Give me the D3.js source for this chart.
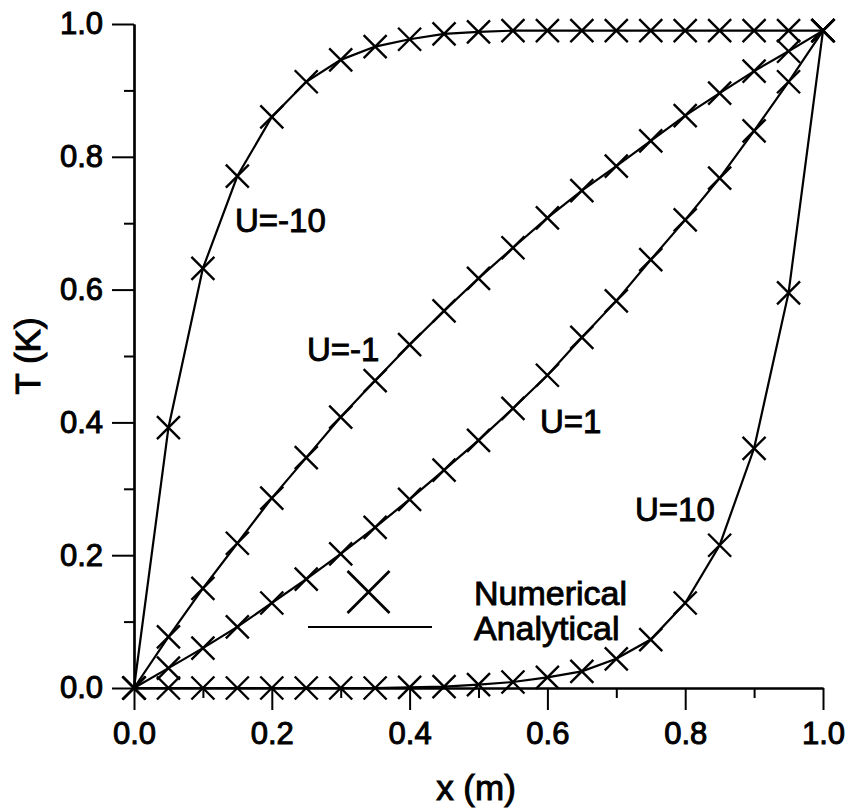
<!DOCTYPE html>
<html>
<head>
<meta charset="utf-8">
<script src="https://cdn.jsdelivr.net/npm/d3@7"></script>
<style>
  html, body { margin: 0; padding: 0; background: #fff; }
  svg text { font-family: "Liberation Sans", Arial, Helvetica, sans-serif; fill: #000; }
</style>
</head>
<body>
<svg id="chart" width="849" height="808"></svg>
<script>
// ---- data ----
const xValues = [0, 0.05, 0.1, 0.15, 0.2, 0.25, 0.3, 0.35, 0.4, 0.45, 0.5,
                 0.55, 0.6, 0.65, 0.7, 0.75, 0.8, 0.85, 0.9, 0.95, 1.0];
const T_Um10 = [0, 0.392, 0.632, 0.771, 0.860, 0.913, 0.946, 0.966, 0.977, 0.985, 0.988,
                0.990, 0.990, 0.990, 0.990, 0.990, 0.990, 0.990, 0.990, 0.990, 0.990];
const T_Um1  = [0, 0.077, 0.150, 0.218, 0.286, 0.347, 0.408, 0.463, 0.517, 0.568, 0.617,
                0.663, 0.708, 0.749, 0.786, 0.824, 0.862, 0.896, 0.929, 0.959, 0.990];
const T_U1   = [0, 0.030, 0.060, 0.092, 0.128, 0.164, 0.202, 0.242, 0.284, 0.328, 0.373,
                0.421, 0.471, 0.528, 0.583, 0.645, 0.705, 0.768, 0.839, 0.913, 0.990];
const T_U10  = [0, 0.000, 0.000, 0.000, 0.000, 0.000, 0.000, 0.000, 0.001, 0.002, 0.005,
                0.009, 0.016, 0.025, 0.044, 0.073, 0.128, 0.215, 0.361, 0.595, 0.990];
const seriesNames = ["U=-10", "U=-1", "U=1", "U=10"];
const seriesValues = [T_Um10, T_Um1, T_U1, T_U10];
const xMajorTicks = [0, 0.2, 0.4, 0.6, 0.8, 1.0];
const xMinorTicks = [0.1, 0.3, 0.5, 0.7, 0.9];
const yMajorTicks = [0, 0.2, 0.4, 0.6, 0.8, 1.0];
const yMinorTicks = [0.1, 0.3, 0.5, 0.7, 0.9];
const xTitle = "x (m)";
const yTitle = "T (K)";
const legendLabels = ["Numerical", "Analytical"];

// ---- layout ----
const svg = d3.select("#chart");
const x = d3.scaleLinear().domain([0, 1]).range([134, 823]);
const y = d3.scaleLinear().domain([0, 1]).range([688, 24]);

const black = "#000";

// axes (left and bottom only)
const xAxisMajor = d3.axisBottom(x).tickValues(xMajorTicks).tickFormat(d3.format(".1f"))
  .tickSizeInner(22).tickSizeOuter(0).tickPadding(12);
const xAxisMinor = d3.axisBottom(x).tickValues(xMinorTicks).tickFormat("")
  .tickSizeInner(10).tickSizeOuter(0);
const yAxisMajor = d3.axisLeft(y).tickValues(yMajorTicks).tickFormat(d3.format(".1f"))
  .tickSizeInner(22).tickSizeOuter(0).tickPadding(9);
const yAxisMinor = d3.axisLeft(y).tickValues(yMinorTicks).tickFormat("")
  .tickSizeInner(10).tickSizeOuter(0);

function styleAxis(g) {
  g.select(".domain").attr("stroke", black).attr("stroke-width", 2.2);
  g.selectAll(".tick line").attr("stroke", black).attr("stroke-width", 2);
  g.selectAll(".tick text")
    .attr("font-family", "Liberation Sans, Arial, sans-serif")
    .attr("font-size", 31)
    .attr("fill", black)
    .attr("stroke", black).attr("stroke-width", 1.0);
}

svg.append("g").attr("transform", `translate(0,${y(0)})`).call(xAxisMinor).call(styleAxis);
svg.append("g").attr("transform", `translate(0,${y(0)})`).call(xAxisMajor).call(styleAxis);
svg.append("g").attr("transform", `translate(${x(0)},0)`).call(yAxisMinor).call(styleAxis);
svg.append("g").attr("transform", `translate(${x(0)},0)`).call(yAxisMajor).call(styleAxis);

// axis titles
svg.append("text")
  .attr("x", 476).attr("y", 800)
  .attr("text-anchor", "middle")
  .attr("font-size", 35)
  .attr("stroke", black).attr("stroke-width", 1.0)
  .text(xTitle);
svg.append("text")
  .attr("transform", `translate(40,356) rotate(-90)`)
  .attr("text-anchor", "middle")
  .attr("font-size", 35)
  .attr("stroke", black).attr("stroke-width", 1.0)
  .text(yTitle);

// analytical lines and numerical markers
const line = d3.line()
  .x((d, i) => x(xValues[i]))
  .y(d => y(d))
  .curve(d3.curveLinear);

const plot = svg.append("g");
seriesValues.forEach((vals) => {
  plot.append("path")
    .datum(vals)
    .attr("d", line)
    .attr("fill", "none")
    .attr("stroke", black)
    .attr("stroke-width", 2.2);
});

function crossPath(cx, cy, r) {
  return `M${cx - r},${cy - r}L${cx + r},${cy + r}M${cx - r},${cy + r}L${cx + r},${cy - r}`;
}
seriesValues.forEach((vals) => {
  plot.append("g").selectAll("path")
    .data(vals)
    .join("path")
    .attr("d", (d, i) => crossPath(x(xValues[i]), y(d), 11.5))
    .attr("fill", "none")
    .attr("stroke", black)
    .attr("stroke-width", 2.4);
});

// curve labels
const labelPos = [
  { name: seriesNames[0], lx: 235, ly: 232 },
  { name: seriesNames[1], lx: 307, ly: 361 },
  { name: seriesNames[2], lx: 540, ly: 433 },
  { name: seriesNames[3], lx: 635, ly: 521 }
];
svg.append("g").selectAll("text")
  .data(labelPos)
  .join("text")
  .attr("x", d => d.lx).attr("y", d => d.ly)
  .attr("font-size", 33)
  .attr("stroke", black).attr("stroke-width", 0.9)
  .text(d => d.name);

// legend
const legend = svg.append("g");
legend.append("path")
  .attr("d", crossPath(368.5, 592, 21))
  .attr("fill", "none").attr("stroke", black).attr("stroke-width", 2.8);
legend.append("line")
  .attr("x1", 308).attr("x2", 432).attr("y1", 627).attr("y2", 627)
  .attr("stroke", black).attr("stroke-width", 2.2);
legend.append("text")
  .attr("x", 474).attr("y", 605)
  .attr("font-size", 34)
  .attr("stroke", black).attr("stroke-width", 0.9)
  .text(legendLabels[0]);
legend.append("text")
  .attr("x", 474).attr("y", 640)
  .attr("font-size", 34)
  .attr("stroke", black).attr("stroke-width", 0.9)
  .text(legendLabels[1]);
</script>
</body>
</html>
